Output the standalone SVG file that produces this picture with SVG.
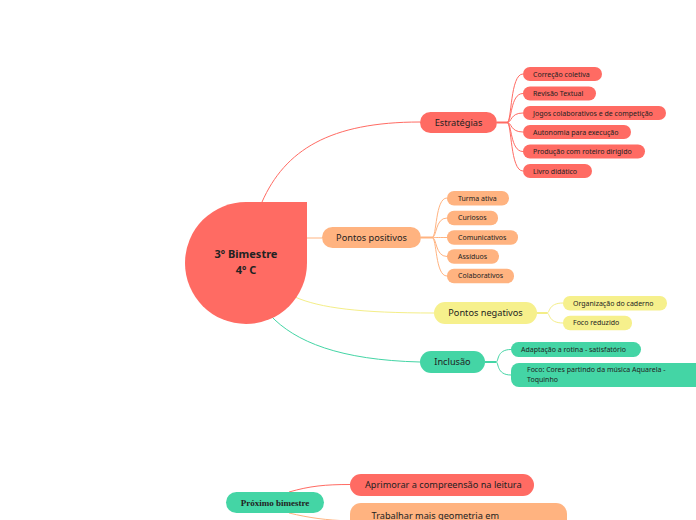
<svg xmlns="http://www.w3.org/2000/svg" width="696" height="520" viewBox="0 0 696 520">
<style>
text{font-family:"Noto Sans","Open Sans","DejaVu Sans",sans-serif;fill:#222}
.m{font-size:9.2px}
.s{font-size:7px}
.c{fill:none;stroke-width:1}
.stub{fill:none;stroke-width:2}
.red{fill:#ff6b63}.org{fill:#ffb380}.yel{fill:#f6f08c}.grn{fill:#44d5a5}
.lr{stroke:#ff6b63}.lo{stroke:#ffb380}.ly{stroke:#f4ee88}.lg{stroke:#44d5a5}
</style>
<rect width="696" height="520" fill="#ffffff"/>
<g id="connectors">
<path class="c lr" d="M262 202 C285 150 330 122 420 122"/>
<path class="c lo" d="M307 238 H322"/>
<path class="c ly" d="M295 297 C320 308 360 313 434 313"/>
<path class="c lg" d="M270 315 C295 342 340 360 420 362"/>
<path class="stub lr" d="M497 122.5 H507"/>
<path class="c lr" d="M507 122.5 C512 122.5 510 74 523 74"/>
<path class="c lr" d="M507 122.5 C512 122.5 510 93.5 523 93.5"/>
<path class="c lr" d="M507 122.5 C512 122.5 510 113 523 113"/>
<path class="c lr" d="M507 122.5 C512 122.5 510 132 523 132"/>
<path class="c lr" d="M507 122.5 C512 122.5 510 151.5 523 151.5"/>
<path class="c lr" d="M507 122.5 C512 122.5 510 171 523 171"/>
<path class="stub lo" d="M421 237.5 H432"/>
<path class="c lo" d="M432 237.5 C437 237.5 435 198 447 198"/>
<path class="c lo" d="M432 237.5 C437 237.5 435 218 447 218"/>
<path class="c lo" d="M432 237.5 C437 237.5 435 237.5 447 237.5"/>
<path class="c lo" d="M432 237.5 C437 237.5 435 256.5 447 256.5"/>
<path class="c lo" d="M432 237.5 C437 237.5 435 276 447 276"/>
<path class="stub ly" d="M537 313 H547"/>
<path class="c ly" d="M547 313 C550 313 548 303 563 303"/>
<path class="c ly" d="M547 313 C550 313 548 323 563 323"/>
<path class="stub lg" d="M485 362 H496"/>
<path class="c lg" d="M496 362 C499 362 496 349.5 511 349.5"/>
<path class="c lg" d="M496 362 C499 362 496 375 511 375"/>
<path class="c lr" d="M289 492 C310 486 325 484.5 350 484.5"/>
<path class="c lo" d="M289 513 C310 518 325 520 350 521"/>
</g>
<g id="center">
<path class="red" d="M246 202 H307 V263 A61 61 0 1 1 246 202 Z"/>
<text x="246" y="258" text-anchor="middle" font-size="11" font-weight="bold">3º Bimestre</text>
<text x="246" y="274" text-anchor="middle" font-size="11" font-weight="bold">4º C</text>
</g>
<g id="estrategias">
<rect class="red" x="420" y="112" width="77" height="21" rx="10.5"/>
<text class="m" x="458.5" y="125.8" text-anchor="middle">Estratégias</text>
</g>
<g id="e1"><rect class="red" x="523" y="67" width="79" height="14" rx="7"/><text class="s" x="533" y="76.5">Correção coletiva</text></g>
<g id="e2"><rect class="red" x="523" y="86.5" width="73" height="14" rx="7"/><text class="s" x="533" y="96">Revisão Textual</text></g>
<g id="e3"><rect class="red" x="523" y="106" width="143" height="14" rx="7"/><text class="s" x="533" y="115.5">Jogos colaborativos e de competição</text></g>
<g id="e4"><rect class="red" x="523" y="125" width="108" height="14" rx="7"/><text class="s" x="533" y="134.5">Autonomia para execução</text></g>
<g id="e5"><rect class="red" x="523" y="144.5" width="122" height="14" rx="7"/><text class="s" x="533" y="154">Produção com roteiro dirigido</text></g>
<g id="e6"><rect class="red" x="523" y="164" width="69" height="14" rx="7"/><text class="s" x="533" y="173.5">Livro didático</text></g>
<g id="positivos">
<rect class="org" x="322" y="227" width="99" height="21" rx="10.5"/>
<text class="m" x="371.5" y="240.8" text-anchor="middle">Pontos positivos</text>
</g>
<g id="p1"><rect class="org" x="447" y="191" width="62" height="14.5" rx="7"/><text class="s" x="458" y="200.5">Turma ativa</text></g>
<g id="p2"><rect class="org" x="447" y="210.7" width="51" height="14.5" rx="7"/><text class="s" x="458" y="220.3">Curiosos</text></g>
<g id="p3"><rect class="org" x="447" y="230.2" width="71" height="14.5" rx="7"/><text class="s" x="458" y="239.8">Comunicativos</text></g>
<g id="p4"><rect class="org" x="447" y="249.3" width="52" height="14.5" rx="7"/><text class="s" x="458" y="258.9">Assíduos</text></g>
<g id="p5"><rect class="org" x="447" y="268.8" width="67" height="14.5" rx="7"/><text class="s" x="458" y="278.4">Colaborativos</text></g>
<g id="negativos">
<rect class="yel" x="434" y="302" width="103" height="22" rx="11"/>
<text class="m" x="485.5" y="316.3" text-anchor="middle">Pontos negativos</text>
</g>
<g id="n1"><rect class="yel" x="563" y="296" width="104" height="14.5" rx="7"/><text class="s" x="573" y="305.6">Organização do caderno</text></g>
<g id="n2"><rect class="yel" x="563" y="315.7" width="69" height="14.5" rx="7"/><text class="s" x="573" y="325.3">Foco reduzido</text></g>
<g id="inclusao">
<rect class="grn" x="420" y="351" width="65" height="22" rx="11"/>
<text class="m" x="452.5" y="365.3" text-anchor="middle">Inclusão</text>
</g>
<g id="i1"><rect class="grn" x="511" y="342" width="130" height="15" rx="7.5"/><text class="s" x="521" y="352">Adaptação a rotina - satisfatório</text></g>
<g id="i2"><rect class="grn" x="511" y="363" width="195" height="24" rx="8"/><text class="s" x="527" y="371.8">Foco: Cores partindo da música Aquarela -</text><text class="s" x="527" y="382">Toquinho</text></g>
<g id="proximo">
<rect class="grn" x="226" y="492" width="98" height="21" rx="10.5"/>
<text x="275" y="505.5" text-anchor="middle" font-family="'Liberation Serif',serif" font-weight="bold" font-size="9" style="font-family:'Liberation Serif',serif">Próximo bimestre</text>
</g>
<g id="aprimorar">
<rect class="red" x="350" y="474" width="184" height="22" rx="11"/>
<text class="m" x="365" y="488.3">Aprimorar a compreensão na leitura</text>
</g>
<g id="trabalhar">
<rect class="org" x="350" y="503" width="217" height="30" rx="11"/>
<text class="m" x="371.5" y="518.5">Trabalhar mais geometria em</text>
</g>
</svg>
